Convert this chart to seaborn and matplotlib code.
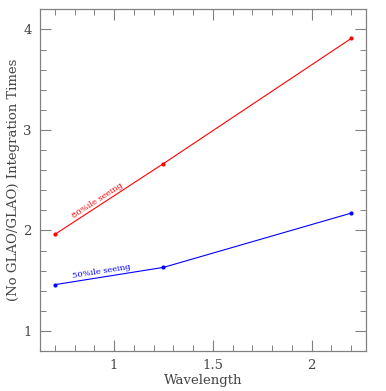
import matplotlib
matplotlib.use('Agg')
import matplotlib.pyplot as plt
from matplotlib.ticker import MultipleLocator
import seaborn as sns
import pandas as pd

sns.set_theme(style='ticks')
plt.rcParams['font.family'] = ['DejaVu Serif']

wavelength = [0.7, 1.25, 2.2]
ratio_80 = [1.96, 2.665, 3.91]
ratio_50 = [1.46, 1.632, 2.172]

df = pd.DataFrame({
    'Wavelength': wavelength * 2,
    'ratio': ratio_80 + ratio_50,
    'seeing': ['80%ile seeing'] * 3 + ['50%ile seeing'] * 3,
})

fig = plt.figure(figsize=(3.86, 3.91), dpi=100)
ax = fig.add_axes([0.1036, 0.1023, 0.8446, 0.8739])

sns.lineplot(data=df, x='Wavelength', y='ratio', hue='seeing',
             palette={'80%ile seeing': 'red', '50%ile seeing': 'blue'},
             marker='o', markersize=3, markeredgewidth=0, linewidth=0.8,
             legend=False, ax=ax)

ax.text(0.914, 2.30, '80%ile seeing', color='red', fontsize=6,
        rotation=33, ha='center', va='center')
ax.text(0.934, 1.59, '50%ile seeing', color='blue', fontsize=6,
        rotation=9, ha='center', va='center')

ax.set_xlim(0.625, 2.275)
ax.set_ylim(0.8, 4.2)
ax.xaxis.set_major_locator(MultipleLocator(0.5))
ax.xaxis.set_minor_locator(MultipleLocator(0.1))
ax.yaxis.set_major_locator(MultipleLocator(1))
ax.yaxis.set_minor_locator(MultipleLocator(0.2))
ax.xaxis.set_major_formatter(matplotlib.ticker.FuncFormatter(lambda v, p: f'{v:g}'))

gray = '#808080'
for s in ax.spines.values():
    s.set_color(gray)
    s.set_linewidth(0.9)
ax.tick_params(which='both', direction='in', top=True, right=True,
               color=gray, labelcolor='#444444', labelsize=9.5)
ax.tick_params(which='major', length=8, width=0.8, pad=6)
ax.tick_params(which='minor', length=4, width=0.7)

ax.set_xlabel('Wavelength', fontsize=9.5, color='#444444', labelpad=1)
ax.set_ylabel('(No GLAO/GLAO) Integration Times', fontsize=9.5, color='#444444', labelpad=2)

fig.savefig('out.png', dpi=100)
